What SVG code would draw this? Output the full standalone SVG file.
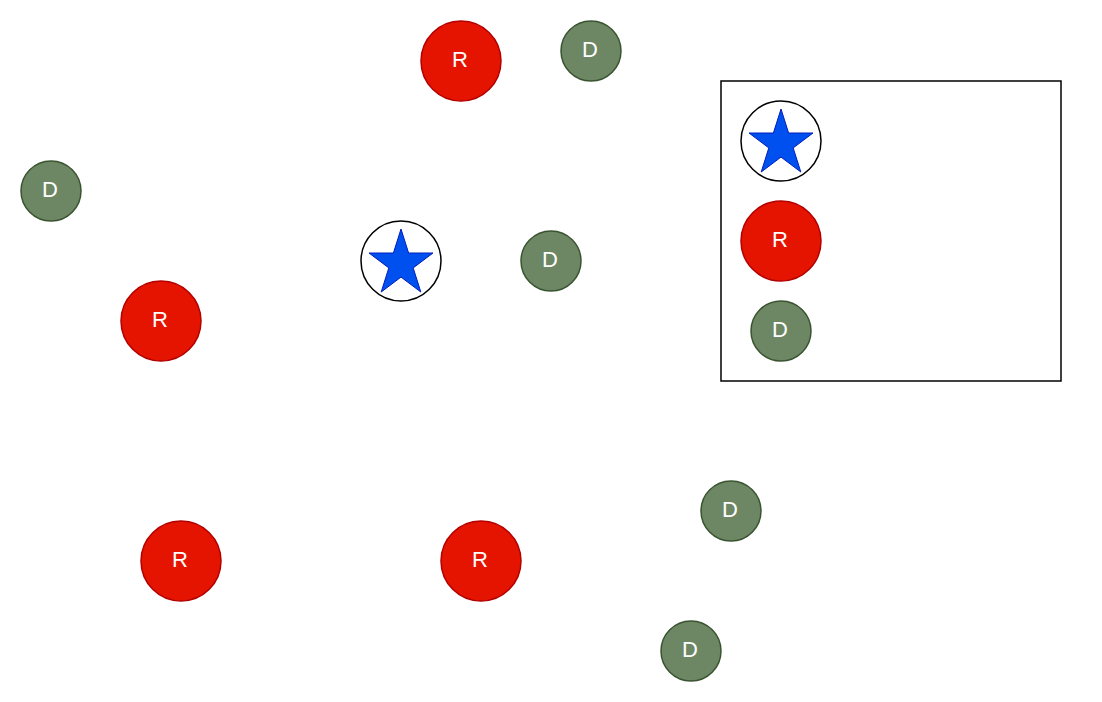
<svg xmlns="http://www.w3.org/2000/svg" width="1102" height="702" viewBox="0 0 1102 702">
<style>
.r{fill:#e51400;stroke:#b20000;stroke-width:1.5}
.d{fill:#6d8764;stroke:#3a5431;stroke-width:1.5}
.c{fill:#ffffff;stroke:#000000;stroke-width:1.5}
.s{fill:#0050ef;stroke:#001dbc;stroke-width:1}
.t{font-family:"Liberation Sans",Arial,sans-serif;font-size:22px;fill:#ffffff;text-anchor:middle;dominant-baseline:central}
</style>
<defs>
<polygon id="star" points="0,-32 7.6,-8 32,-8 12.2,6.9 19.8,31 0,16.1 -19.8,31 -12.2,6.9 -32,-8 -7.6,-8"/>
</defs>
<rect width="1102" height="702" fill="#ffffff"/>
<g id="connectors"></g>
<g id="legend"><rect x="721" y="81" width="340" height="300" fill="none" stroke="#000" stroke-width="1.5"/></g>
<g id="hub"><circle class="c" cx="401" cy="261" r="40"/><use href="#star" class="s" x="401" y="261"/></g>
<g id="r1"><circle class="r" cx="461" cy="61" r="40"/><text class="t" x="460" y="59">R</text></g>
<g id="r2"><circle class="r" cx="161" cy="321" r="40"/><text class="t" x="160" y="319">R</text></g>
<g id="r3"><circle class="r" cx="181" cy="561" r="40"/><text class="t" x="180" y="559">R</text></g>
<g id="r4"><circle class="r" cx="481" cy="561" r="40"/><text class="t" x="480" y="559">R</text></g>
<g id="d1"><circle class="d" cx="591" cy="51" r="30"/><text class="t" x="590" y="49">D</text></g>
<g id="d2"><circle class="d" cx="51" cy="191" r="30"/><text class="t" x="50" y="189">D</text></g>
<g id="d3"><circle class="d" cx="551" cy="261" r="30"/><text class="t" x="550" y="259">D</text></g>
<g id="d4"><circle class="d" cx="731" cy="511" r="30"/><text class="t" x="730" y="509">D</text></g>
<g id="d5"><circle class="d" cx="691" cy="651" r="30"/><text class="t" x="690" y="649">D</text></g>
<g id="legend-hub"><circle class="c" cx="781" cy="141" r="40"/><use href="#star" class="s" x="781" y="141"/></g>
<g id="legend-r"><circle class="r" cx="781" cy="241" r="40"/><text class="t" x="780" y="239">R</text></g>
<g id="legend-d"><circle class="d" cx="781" cy="331" r="30"/><text class="t" x="780" y="329">D</text></g>
</svg>
